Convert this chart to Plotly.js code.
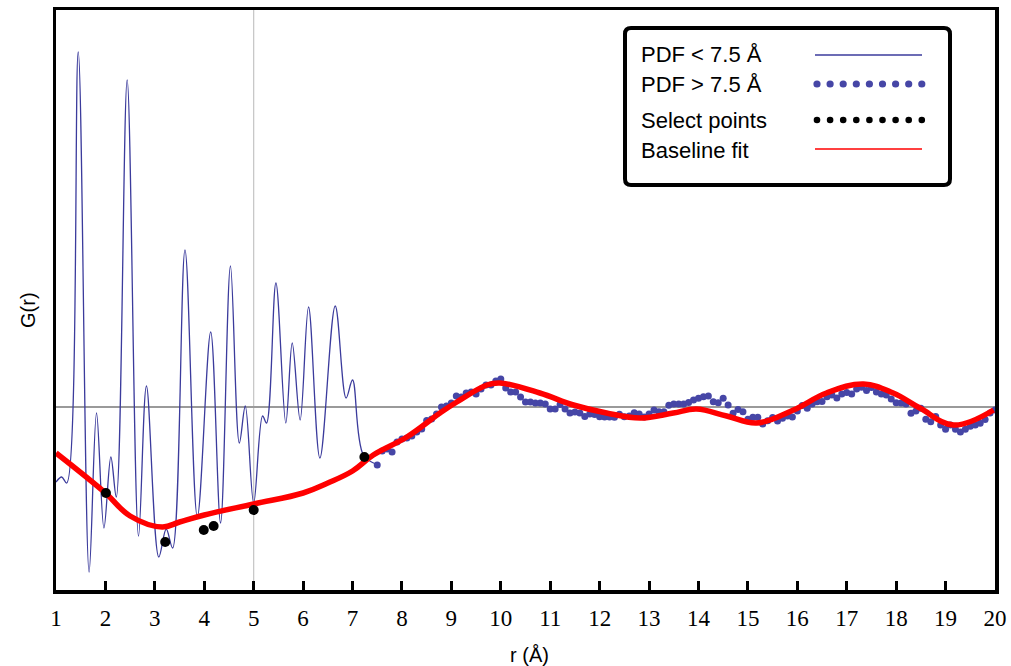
<!DOCTYPE html>
<html>
<head>
<meta charset="utf-8">
<script src="https://cdn.plot.ly/plotly-3.0.1.min.js"></script>
<style>
  html, body { margin: 0; padding: 0; background: #ffffff; }
  #chart { width: 1011px; height: 666px; }
</style>
</head>
<body>
<div id="chart"></div>
<script>
// ---------------- DATA ----------------
// PDF below 7.5 Å (extrema and shoulders)
const rLow = [1.00, 1.115, 1.217, 1.45, 1.67, 1.82, 1.97, 2.11, 2.22, 2.44, 2.67, 2.83, 3.08, 3.23, 3.36,
  3.61, 3.86, 4.13, 4.33, 4.53, 4.71, 4.83, 5.00, 5.18, 5.26, 5.45, 5.65, 5.78, 5.94, 6.11, 6.34,
  6.65, 6.87, 7.00, 7.22, 7.52];
const gLow = [-7.5, -7.0, -7.6, 35.5, -16.5, -0.6, -12.1, -5.0, -9.0, 32.7, -12.9, 2.1, -15.0, -12.2, -14.1,
  15.7, -11.0, 7.5, -11.6, 14.1, -3.6, 0.1, -9.6, -0.9, -1.6, 12.4, -1.6, 6.4, -1.3, 10.0, -5.1,
  10.1, 0.9, 2.7, -4.8, -5.8];

// PDF above 7.5 Å (one point every 0.1 Å)
const rHigh = [7.5, 7.6, 7.7, 7.8, 7.9, 8.0, 8.1, 8.2, 8.3, 8.4, 8.5, 8.6, 8.7, 8.8, 8.9,
  9.0, 9.1, 9.2, 9.3, 9.4, 9.5, 9.6, 9.7, 9.8, 9.9, 10.0, 10.1, 10.2, 10.3, 10.4, 10.5, 10.6, 10.7, 10.8, 10.9,
  11.0, 11.1, 11.2, 11.3, 11.4, 11.5, 11.6, 11.7, 11.8, 11.9, 12.0, 12.1, 12.2, 12.3, 12.4, 12.5, 12.6, 12.7, 12.8, 12.9,
  13.0, 13.1, 13.2, 13.3, 13.4, 13.5, 13.6, 13.7, 13.8, 13.9, 14.0, 14.1, 14.2, 14.3, 14.4, 14.5, 14.6, 14.7, 14.8, 14.9,
  15.0, 15.1, 15.2, 15.3, 15.4, 15.5, 15.6, 15.7, 15.8, 15.9, 16.0, 16.1, 16.2, 16.3, 16.4, 16.5, 16.6, 16.7, 16.8, 16.9,
  17.0, 17.1, 17.2, 17.3, 17.4, 17.5, 17.6, 17.7, 17.8, 17.9, 18.0, 18.1, 18.2, 18.3, 18.4, 18.5, 18.6, 18.7, 18.8, 18.9,
  19.0, 19.1, 19.2, 19.3, 19.4, 19.5, 19.6, 19.7, 19.8, 19.9, 20.0];
const gHigh = [-5.8, -4.4, -4.2, -4.5, -3.5, -3.2, -3.1, -2.9, -2.5, -2.2, -1.35, -1.2, -0.7, 0.0, 0.1,
  0.4, 1.1, 1.0, 1.4, 1.5, 1.3, 1.8, 2.2, 2.2, 2.6, 2.8, 1.9, 1.5, 1.5, 1.0, 0.5, 0.5, 0.4, 0.4, 0.3,
  -0.2, -0.2, 0.25, -0.2, -0.6, -0.5, -0.6, -0.95, -0.7, -0.75, -0.97, -1.0, -1.0, -1.03, -0.73, -0.97, -0.9, -0.57, -0.7, -1.0,
  -0.7, -0.3, -0.47, -0.47, 0.17, 0.3, 0.3, 0.3, 0.45, 0.7, 0.87, 1.03, 1.1, 0.53, 0.43, 0.87, 0.2, -0.63, -0.25, -0.47,
  -1.23, -1.03, -1.03, -1.7, -1.37, -1.05, -1.4, -1.13, -0.9, -1.0, -0.4, 0.15, -0.13, 0.3, 0.53, 0.55, 1.03, 1.2, 0.9, 1.3,
  1.45, 1.3, 1.8, 1.97, 1.65, 1.95, 1.5, 1.3, 1.2, 0.8, 0.43, 0.4, 0.3, -0.63, -0.4, -0.13, -1.23, -1.47, -0.95, -1.8,
  -2.23, -1.8, -2.23, -2.5, -2.22, -1.93, -1.8, -1.63, -1.26, -0.6, -0.3];

// Selected baseline points
const rSel = [2.01, 3.21, 3.99, 4.19, 5.00, 7.24];
const gSel = [-8.6, -13.5, -12.3, -11.9, -10.3, -5.0];

// Baseline fit
const rFit = [1.0, 2.0, 2.5, 3.15, 3.5, 4.0, 5.0, 6.0, 6.5, 7.0, 7.42, 8.1, 8.77, 9.11, 9.72, 9.98,
  10.79, 11.47, 12.14, 12.82, 13.49, 13.96, 14.57, 15.18, 15.92, 16.59, 17.34, 17.94, 18.48, 19.16, 19.97];
const gFit = [-4.6, -8.6, -10.9, -12.0, -11.5, -10.8, -9.7, -8.6, -7.6, -6.4, -4.8, -3.0, -0.6, 0.5, 2.2, 2.4,
  1.4, 0.2, -0.6, -1.1, -0.6, -0.2, -0.9, -1.6, -0.3, 1.4, 2.3, 1.4, -0.1, -1.8, -0.3];

const xTicks = [1, 2, 3, 4, 5, 6, 7, 8, 9, 10, 11, 12, 13, 14, 15, 16, 17, 18, 19, 20];
const legendLabels = ["PDF < 7.5 Å", "PDF > 7.5 Å", "Select points", "Baseline fit"];

// ---------------- STYLE ----------------
const BLUE = "#3b3b9c";
const BLUE_DOT = "#4646a6";
const RED = "#ff0000";

// Plot area in pixels (for the hand-made legend box)
const PL = 56, PR = 995, PT = 10, PB = 590;
const px2x = p => (p - PL) / (PR - PL);
const py2y = p => (PB - p) / (PB - PT);

const traces = [
  { x: rLow, y: gLow, type: "scatter", mode: "lines", name: legendLabels[0],
    line: { color: BLUE, width: 1.3, shape: "spline", smoothing: 1.0 } },
  { x: rHigh, y: gHigh, type: "scatter", mode: "markers", name: legendLabels[1],
    marker: { color: BLUE_DOT, size: 7 } },
  { x: rFit, y: gFit, type: "scatter", mode: "lines", name: legendLabels[3],
    line: { color: RED, width: 5.5, shape: "spline", smoothing: 1.1 } },
  { x: rSel, y: gSel, type: "scatter", mode: "markers", name: legendLabels[2],
    marker: { color: "#000000", size: 10 } }
];

// ---- custom legend (symbols on the right, like the reference) ----
const shapes = [
  { type: "line", xref: "x", yref: "paper", x0: 5, x1: 5, y0: 0, y1: 1,
    line: { color: "#c4c4c4", width: 1.2 }, layer: "below" }
];
// rounded box
(function () {
  const x0 = 625, x1 = 950, y0 = 28, y1 = 185, rad = 6;
  const X = px2x, Y = py2y;
  const path = `M ${X(x0 + rad)} ${Y(y0)} L ${X(x1 - rad)} ${Y(y0)} Q ${X(x1)} ${Y(y0)} ${X(x1)} ${Y(y0 + rad)} ` +
    `L ${X(x1)} ${Y(y1 - rad)} Q ${X(x1)} ${Y(y1)} ${X(x1 - rad)} ${Y(y1)} ` +
    `L ${X(x0 + rad)} ${Y(y1)} Q ${X(x0)} ${Y(y1)} ${X(x0)} ${Y(y1 - rad)} ` +
    `L ${X(x0)} ${Y(y0 + rad)} Q ${X(x0)} ${Y(y0)} ${X(x0 + rad)} ${Y(y0)} Z`;
  shapes.push({ type: "path", xref: "paper", yref: "paper", path: path,
    fillcolor: "#ffffff", line: { color: "#000000", width: 4 }, layer: "above" });
})();
const rowY = [55, 85, 120, 150];
const symX0 = 815, symX1 = 922;
shapes.push({ type: "line", xref: "paper", yref: "paper", x0: px2x(symX0), x1: px2x(symX1),
  y0: py2y(rowY[0]), y1: py2y(rowY[0]), line: { color: BLUE, width: 1.4 }, layer: "above" });
shapes.push({ type: "line", xref: "paper", yref: "paper", x0: px2x(symX0), x1: px2x(symX1),
  y0: py2y(rowY[3] - 1), y1: py2y(rowY[3] - 1), line: { color: RED, width: 1.6 }, layer: "above" });
for (let i = 0; i < 9; i++) {
  const cx = 817 + i * 13.1;
  [[rowY[1] - 1, 3.6, BLUE_DOT], [rowY[2], 3.3, "#000000"]].forEach(([cy, rr, col]) => {
    shapes.push({ type: "circle", xref: "paper", yref: "paper",
      x0: px2x(cx - rr), x1: px2x(cx + rr), y0: py2y(cy + rr), y1: py2y(cy - rr),
      fillcolor: col, line: { width: 0 }, layer: "above" });
  });
}

const SANS = "'Liberation Sans', Arial, sans-serif";
const SERIF = "'Liberation Serif', 'Times New Roman', serif";
const legendFont = { family: SANS, size: 22, color: "#000000" };
const annotations = legendLabels.map((t, i) => ({
  xref: "paper", yref: "paper", x: px2x(639), y: py2y(rowY[i]), xanchor: "left", yanchor: "middle",
  text: t, showarrow: false, font: legendFont
}));
annotations.push({ xref: "paper", yref: "paper", x: px2x(529), y: py2y(655), xanchor: "center", yanchor: "middle",
  text: "r (Å)", showarrow: false, font: { family: SANS, size: 20, color: "#000" } });
annotations.push({ xref: "paper", yref: "paper", x: px2x(28), y: py2y(310), xanchor: "center", yanchor: "middle",
  text: "G(r)", textangle: -90, showarrow: false, font: { family: SANS, size: 20, color: "#000" } });

const layout = {
  width: 1011, height: 666,
  margin: { l: PL, r: 1011 - PR, t: PT, b: 666 - PB, pad: 0 },
  paper_bgcolor: "#ffffff", plot_bgcolor: "#ffffff",
  showlegend: false,
  xaxis: {
    range: [1, 20], tickvals: xTicks, ticktext: xTicks.map(String),
    ticks: "inside", ticklen: 9, tickwidth: 3, tickcolor: "#000",
    showline: true, linecolor: "#000", linewidth: 3.5, mirror: true,
    showgrid: false, zeroline: false,
    tickfont: { family: SERIF, size: 23, color: "#000" },
    ticklabelstandoff: 5
  },
  yaxis: {
    range: [-18.3, 39.7],
    showticklabels: false, ticks: "",
    showline: true, linecolor: "#000", linewidth: 3.5, mirror: true,
    showgrid: false, zeroline: true, zerolinecolor: "#9a9a9a", zerolinewidth: 1.5
  },
  shapes: shapes,
  annotations: annotations
};

Plotly.newPlot("chart", traces, layout, { displayModeBar: false, staticPlot: true });
</script>
</body>
</html>
